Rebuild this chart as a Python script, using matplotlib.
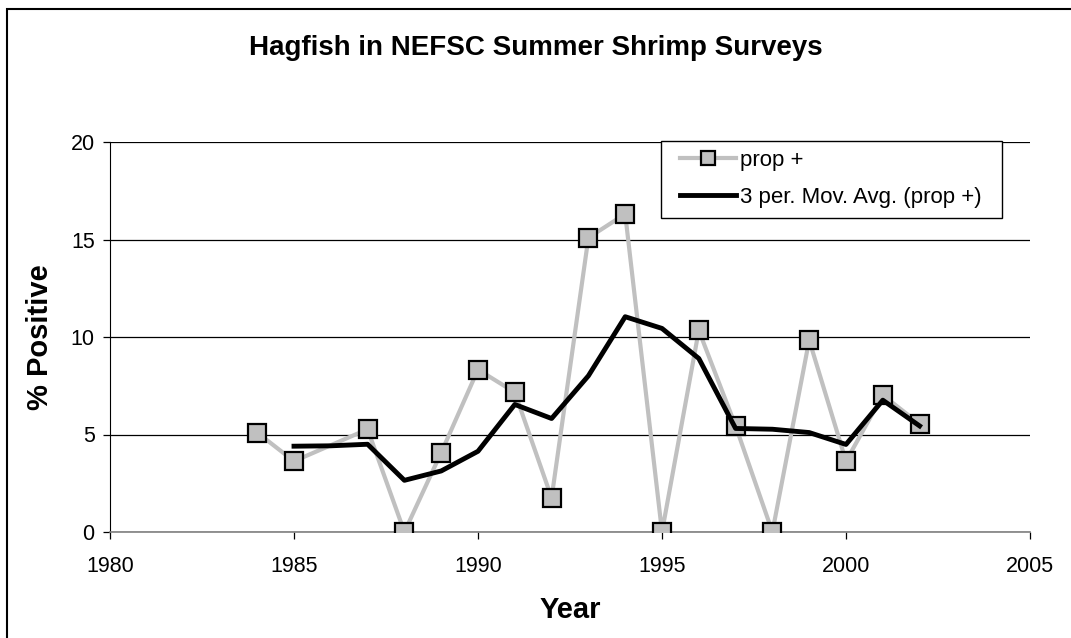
import matplotlib.pyplot as plt
from matplotlib.patches import Rectangle

plt.rcParams['font.family'] = ['Liberation Sans', 'DejaVu Sans']

# prop + (percent of tows with hagfish)
years = [1984, 1985, 1987, 1988, 1989, 1990, 1991, 1992, 1993,
         1994, 1995, 1996, 1997, 1998, 1999, 2000, 2001, 2002]
prop_pos = [5.10, 3.63, 5.27, 0.0, 4.07, 8.33, 7.16, 1.75, 15.09,
            16.31, 0.0, 10.34, 5.44, 0.0, 9.84, 3.63, 7.02, 5.54]

# 3 period moving average as drawn by the spreadsheet
ma_years = [1985, 1986, 1987, 1988, 1989, 1990, 1991, 1992, 1993,
            1994, 1995, 1996, 1997, 1998, 1999, 2000, 2001, 2002]
ma_vals = [4.40, 4.42, 4.50, 2.65, 3.13, 4.14, 6.54, 5.82, 8.01,
           11.04, 10.44, 8.90, 5.31, 5.27, 5.10, 4.49, 6.76, 5.44]

W, H = 1071, 638
fig = plt.figure(figsize=(W / 100, H / 100), dpi=100)
ax = fig.add_axes([110 / W, 1 - 532 / H, 920 / W, 390 / H])

ax.plot(years, prop_pos, color='#c0c0c0', lw=3, marker='s', ms=13.5,
        mfc='#c0c0c0', mec='black', mew=1.6, label='prop +', zorder=3)
ax.plot(ma_years, ma_vals, color='black', lw=3.5,
        label='3 per. Mov. Avg. (prop +)', zorder=4)

ax.set_xlim(1980, 2005)
ax.set_ylim(0, 20)
ax.set_xticks(range(1980, 2006, 5))
ax.set_yticks(range(0, 21, 5))
ax.yaxis.grid(True, color='black', lw=0.9)
ax.set_axisbelow(True)
for s in ['top', 'right']:
    ax.spines[s].set_visible(False)
ax.spines['left'].set_color('black')
ax.spines['bottom'].set_color('#808080')
ax.spines['bottom'].set_linewidth(1.2)
ax.tick_params(direction='out', length=5, width=0.9, labelsize=15.5, color='black')
ax.tick_params(axis='x', pad=12)
ax.tick_params(axis='y', pad=6)
for lab in ax.get_xticklabels() + ax.get_yticklabels():
    lab.set_clip_on(False)

ax.set_xlabel('Year', fontsize=21, fontweight='bold', labelpad=14)
ax.set_ylabel('% Positive', fontsize=21, fontweight='bold', labelpad=12)
fig.text(0.5, 1 - 48 / H, 'Hagfish in NEFSC Summer Shrimp Surveys',
         ha='center', va='center', fontsize=20, fontweight='bold')

# legend box drawn separately so its padding can match
box = Rectangle((661 / W, 1 - 218 / H), 341 / W, 77 / H,
                transform=fig.transFigure, facecolor='white',
                edgecolor='black', lw=1.0, zorder=5, clip_on=False)
ax.add_patch(box)
leg = ax.legend(loc='center left', bbox_to_anchor=(680 / W, 1 - 179 / H),
                bbox_transform=fig.transFigure, fontsize=16, frameon=False,
                handlelength=2.5, handletextpad=0.2, labelspacing=0.7,
                borderpad=0, borderaxespad=0)
leg.legend_handles[0].set_markersize(10)
leg.set_zorder(6)

# outer chart border
fig.patches.append(Rectangle((7 / W, -0.05), 1.2, 1 - 9 / H + 0.05,
                             transform=fig.transFigure, fill=False,
                             edgecolor='black', lw=1.5))

fig.savefig('out.png', dpi=100)
